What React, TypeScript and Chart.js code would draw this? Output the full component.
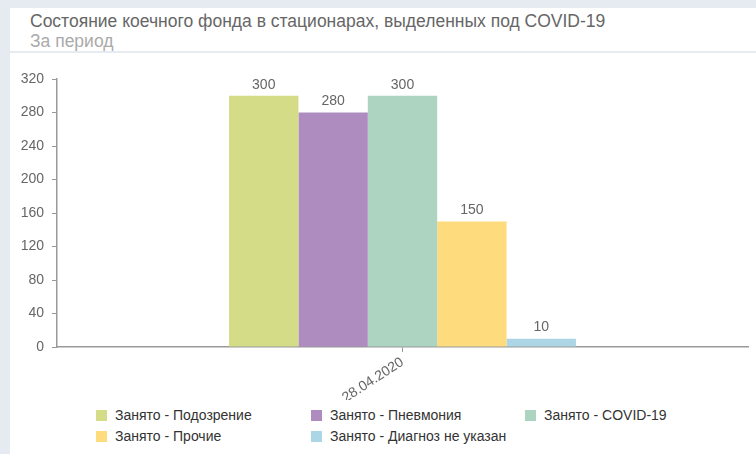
import React, { useEffect, useRef } from "react";
import { Chart, registerables } from "chart.js";

Chart.register(...registerables);

const TITLE = "Состояние коечного фонда в стационарах, выделенных под COVID-19";
const SUBTITLE = "За период";
const categories = ["28.04.2020"];
const seriesNames = [
  "Занято - Подозрение",
  "Занято - Пневмония",
  "Занято - COVID-19",
  "Занято - Прочие",
  "Занято - Диагноз не указан",
];
const seriesSuspected = [300];
const seriesPneumonia = [280];
const seriesCovid = [300];
const seriesOther = [150];
const seriesUnknown = [10];
const seriesColors = ["#d4dc87", "#ae8cc0", "#acd4c1", "#fedb7d", "#acd6e6"];
const yMin = 0;
const yMax = 320;
const yStep = 40;

const FONT = '"Liberation Sans", Arial, sans-serif';

const valueLabels = {
  id: "valueLabels",
  afterDatasetsDraw(chart: any) {
    const ctx = chart.ctx;
    ctx.save();
    ctx.font = `14px ${FONT}`;
    ctx.fillStyle = "#666666";
    ctx.textAlign = "center";
    ctx.textBaseline = "bottom";
    chart.data.datasets.forEach((ds: any, i: number) => {
      const meta = chart.getDatasetMeta(i);
      meta.data.forEach((el: any, j: number) => {
        const v = ds.data[j];
        ctx.fillText(String(v), el.x, el.y - 4);
      });
    });
    ctx.restore();
  },
};

export default function App() {
  const ref = useRef<HTMLCanvasElement | null>(null);

  useEffect(() => {
    if (!ref.current) return;
    const allSeries = [seriesSuspected, seriesPneumonia, seriesCovid, seriesOther, seriesUnknown];
    const chart = new Chart(ref.current, {
      type: "bar",
      data: {
        labels: categories,
        datasets: allSeries.map((d, i) => ({
          label: seriesNames[i],
          data: d,
          backgroundColor: seriesColors[i],
          borderWidth: 0,
          categoryPercentage: 0.502,
          barPercentage: 1,
        })),
      },
      options: {
        animation: false,
        responsive: false,
        maintainAspectRatio: false,
        layout: { padding: { top: 24, right: 8, left: 0, bottom: 0 } },
        plugins: {
          legend: { display: false },
          tooltip: { enabled: false },
          title: { display: false },
        },
        scales: {
          x: {
            afterFit: (s: any) => {
              s.height = 53;
            },
            grid: {
              offset: false,
              drawOnChartArea: false,
              drawTicks: true,
              tickLength: 5,
              color: "#999999",
            },
            border: { color: "#999999", width: 1.5 },
            ticks: {
              minRotation: 33,
              maxRotation: 33,
              padding: 2,
              color: "#666666",
              font: { family: FONT, size: 14 },
            },
          },
          y: {
            min: yMin,
            max: yMax,
            afterFit: (s: any) => {
              s.width = 47;
            },
            grid: {
              drawOnChartArea: false,
              drawTicks: true,
              tickLength: 5,
              color: "#999999",
            },
            border: { color: "#999999", width: 1.5 },
            ticks: {
              stepSize: yStep,
              padding: 8,
              color: "#666666",
              font: { family: FONT, size: 14 },
            },
          },
        },
      },
      plugins: [valueLabels],
    });
    return () => chart.destroy();
  }, []);

  const colLefts = [86, 301, 515];
  const rowTops = [402, 423];

  return (
    <div
      style={{
        position: "fixed",
        left: 0,
        top: 0,
        right: 0,
        bottom: 0,
        background: "#e6ebf2",
        fontFamily: FONT,
        overflow: "hidden",
      }}
    >
      <div
        style={{
          position: "absolute",
          left: 10,
          top: 8,
          right: 0,
          bottom: 0,
          background: "#ffffff",
        }}
      >
        <div
          style={{
            position: "absolute",
            left: 20,
            top: 3,
            fontSize: 17.5,
            lineHeight: "21px",
            color: "#666666",
            whiteSpace: "nowrap",
          }}
        >
          {TITLE}
        </div>
        <div
          style={{
            position: "absolute",
            left: 20,
            top: 23,
            fontSize: 17.5,
            lineHeight: "21px",
            color: "#aaaaaa",
            whiteSpace: "nowrap",
          }}
        >
          {SUBTITLE}
        </div>
        <div
          style={{
            position: "absolute",
            left: 0,
            right: 0,
            top: 43,
            height: 2,
            background: "#e6ebf2",
          }}
        />
        <canvas
          ref={ref}
          width={746}
          height={345}
          style={{ position: "absolute", left: 0, top: 47, width: 746, height: 345 }}
        />
        {seriesNames.map((name, i) => (
          <div
            key={name}
            style={{
              position: "absolute",
              left: colLefts[i % 3],
              top: rowTops[Math.floor(i / 3)],
              display: "flex",
              alignItems: "center",
              fontSize: 14,
              lineHeight: "11px",
              color: "#333333",
              whiteSpace: "nowrap",
            }}
          >
            <span
              style={{
                display: "inline-block",
                width: 11,
                height: 11,
                background: seriesColors[i],
                marginRight: 8,
              }}
            />
            <span>{name}</span>
          </div>
        ))}
      </div>
    </div>
  );
}
